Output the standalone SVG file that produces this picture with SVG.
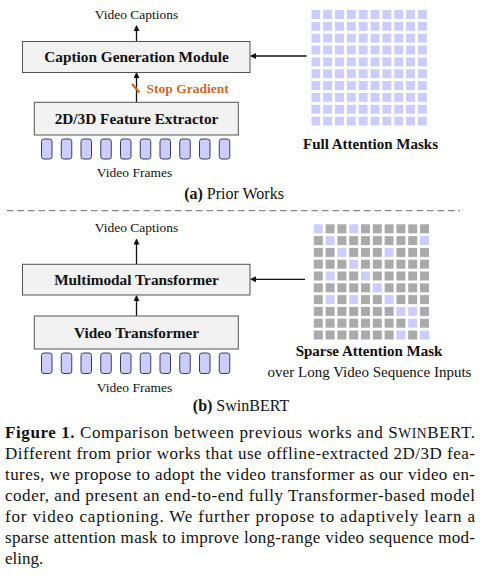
<svg xmlns="http://www.w3.org/2000/svg" width="482" height="576" viewBox="0 0 482 576">
<style>
text{font-family:"Liberation Serif","Times New Roman",serif;fill:#111}
.lbl{font-size:13.5px;text-anchor:middle}
.box{fill:#f2f2f2;stroke:#555;stroke-width:1}
.bt{font-size:15.3px;font-weight:bold;text-anchor:middle}
.fr{fill:#ccccff;stroke:#3c3c55;stroke-width:1}
.ln{stroke:#111;stroke-width:1.3;fill:none}
.fm{fill:#ccccff}
.g{fill:#aaaaaa}
.p{fill:#ccccff}
.cap{font-size:17px}
</style>
<defs>
<marker id="ah" markerWidth="6" markerHeight="6" refX="5" refY="3" orient="auto" markerUnits="userSpaceOnUse">
<path d="M0,0 L6,3 L0,6 Z" fill="#111"/>
</marker>
<pattern id="fullgrid" x="311.3" y="10" width="11.85" height="11.85" patternUnits="userSpaceOnUse">
<rect x="0" y="0" width="9" height="9" fill="#ccccff"/>
</pattern>
</defs>

<g id="connectors">
<line class="ln" x1="136.5" y1="41.5" x2="136.5" y2="26" marker-end="url(#ah)"/>
<line class="ln" x1="136.5" y1="102" x2="136.5" y2="73" marker-end="url(#ah)"/>
<line x1="132" y1="84" x2="139.5" y2="92.5" stroke="#d2691e" stroke-width="2.2"/>
<line class="ln" x1="306.5" y1="56" x2="251" y2="56" marker-end="url(#ah)"/>
<line class="ln" x1="136.5" y1="264" x2="136.5" y2="239.5" marker-end="url(#ah)"/>
<line class="ln" x1="136.5" y1="316" x2="136.5" y2="296" marker-end="url(#ah)"/>
<line class="ln" x1="305" y1="279.3" x2="251" y2="279.3" marker-end="url(#ah)"/>
</g>

<g id="prior-captions"><text class="lbl" x="136.5" y="19">Video Captions</text></g>
<g id="caption-generation-module">
<rect class="box" x="22.5" y="41.5" width="227.5" height="31"/>
<text class="bt" x="136.5" y="62">Caption Generation Module</text>
</g>
<g id="stop-gradient"><text x="146.5" y="93" style="font-size:13.5px;font-weight:bold;fill:#cc6a2a">Stop Gradient</text></g>
<g id="feature-extractor">
<rect class="box" x="34.3" y="102.3" width="204" height="32.7"/>
<text class="bt" x="136.5" y="123.5">2D/3D Feature Extractor</text>
</g>
<g id="prior-frames">
<rect class="fr" x="41.5" y="139" width="10.5" height="20" rx="2.5"/>
<rect class="fr" x="61.25" y="139" width="10.5" height="20" rx="2.5"/>
<rect class="fr" x="81" y="139" width="10.5" height="20" rx="2.5"/>
<rect class="fr" x="100.75" y="139" width="10.5" height="20" rx="2.5"/>
<rect class="fr" x="120.5" y="139" width="10.5" height="20" rx="2.5"/>
<rect class="fr" x="140.25" y="139" width="10.5" height="20" rx="2.5"/>
<rect class="fr" x="160" y="139" width="10.5" height="20" rx="2.5"/>
<rect class="fr" x="179.75" y="139" width="10.5" height="20" rx="2.5"/>
<rect class="fr" x="199.5" y="139" width="10.5" height="20" rx="2.5"/>
<rect class="fr" x="219.25" y="139" width="10.5" height="20" rx="2.5"/>
<text class="lbl" x="134.5" y="176.5">Video Frames</text>
</g>
<g id="full-attention-mask">
<rect x="311.3" y="10" width="115.7" height="115.7" fill="url(#fullgrid)"/>
<text x="370.5" y="149" style="font-size:15px;font-weight:bold;text-anchor:middle">Full Attention Masks</text>
</g>
<g id="label-a"><text x="234" y="199" style="font-size:16px;text-anchor:middle"><tspan font-weight="bold">(a)</tspan> Prior Works</text></g>

<line x1="7" y1="210.7" x2="460" y2="210.7" stroke="#888" stroke-width="1.3" stroke-dasharray="6.5,4"/>

<g id="swin-captions"><text class="lbl" x="136.5" y="232.3">Video Captions</text></g>
<g id="multimodal-transformer">
<rect class="box" x="22.5" y="264.3" width="227.5" height="30.7"/>
<text class="bt" x="136.5" y="284.5">Multimodal Transformer</text>
</g>
<g id="video-transformer">
<rect class="box" x="34.3" y="316" width="204" height="33"/>
<text class="bt" x="136.5" y="337.5">Video Transformer</text>
</g>
<g id="swin-frames">
<rect class="fr" x="41.5" y="353" width="10.5" height="20.5" rx="2.5"/>
<rect class="fr" x="61.25" y="353" width="10.5" height="20.5" rx="2.5"/>
<rect class="fr" x="81" y="353" width="10.5" height="20.5" rx="2.5"/>
<rect class="fr" x="100.75" y="353" width="10.5" height="20.5" rx="2.5"/>
<rect class="fr" x="120.5" y="353" width="10.5" height="20.5" rx="2.5"/>
<rect class="fr" x="140.25" y="353" width="10.5" height="20.5" rx="2.5"/>
<rect class="fr" x="160" y="353" width="10.5" height="20.5" rx="2.5"/>
<rect class="fr" x="179.75" y="353" width="10.5" height="20.5" rx="2.5"/>
<rect class="fr" x="199.5" y="353" width="10.5" height="20.5" rx="2.5"/>
<rect class="fr" x="219.25" y="353" width="10.5" height="20.5" rx="2.5"/>
<text class="lbl" x="134.5" y="391.5">Video Frames</text>
</g>
<g id="sparse-attention-mask">
<g transform="translate(313.8,224.3)">
<!-- row 0 -->
<rect class="p" x="0" y="0" width="9" height="9"/><rect class="g" x="11.8" y="0" width="9" height="9"/><rect class="g" x="23.6" y="0" width="9" height="9"/><rect class="p" x="35.4" y="0" width="9" height="9"/><rect class="g" x="47.2" y="0" width="9" height="9"/><rect class="g" x="59" y="0" width="9" height="9"/><rect class="g" x="70.8" y="0" width="9" height="9"/><rect class="g" x="82.6" y="0" width="9" height="9"/><rect class="g" x="94.4" y="0" width="9" height="9"/><rect class="g" x="106.2" y="0" width="9" height="9"/>
<!-- row 1 -->
<rect class="g" x="0" y="11.8" width="9" height="9"/><rect class="p" x="11.8" y="11.8" width="9" height="9"/><rect class="g" x="23.6" y="11.8" width="9" height="9"/><rect class="g" x="35.4" y="11.8" width="9" height="9"/><rect class="g" x="47.2" y="11.8" width="9" height="9"/><rect class="g" x="59" y="11.8" width="9" height="9"/><rect class="g" x="70.8" y="11.8" width="9" height="9"/><rect class="g" x="82.6" y="11.8" width="9" height="9"/><rect class="g" x="94.4" y="11.8" width="9" height="9"/><rect class="p" x="106.2" y="11.8" width="9" height="9"/>
<!-- row 2 -->
<rect class="g" x="0" y="23.6" width="9" height="9"/><rect class="g" x="11.8" y="23.6" width="9" height="9"/><rect class="p" x="23.6" y="23.6" width="9" height="9"/><rect class="g" x="35.4" y="23.6" width="9" height="9"/><rect class="g" x="47.2" y="23.6" width="9" height="9"/><rect class="g" x="59" y="23.6" width="9" height="9"/><rect class="p" x="70.8" y="23.6" width="9" height="9"/><rect class="g" x="82.6" y="23.6" width="9" height="9"/><rect class="g" x="94.4" y="23.6" width="9" height="9"/><rect class="g" x="106.2" y="23.6" width="9" height="9"/>
<!-- row 3 -->
<rect class="g" x="0" y="35.4" width="9" height="9"/><rect class="g" x="11.8" y="35.4" width="9" height="9"/><rect class="g" x="23.6" y="35.4" width="9" height="9"/><rect class="p" x="35.4" y="35.4" width="9" height="9"/><rect class="g" x="47.2" y="35.4" width="9" height="9"/><rect class="g" x="59" y="35.4" width="9" height="9"/><rect class="g" x="70.8" y="35.4" width="9" height="9"/><rect class="g" x="82.6" y="35.4" width="9" height="9"/><rect class="g" x="94.4" y="35.4" width="9" height="9"/><rect class="g" x="106.2" y="35.4" width="9" height="9"/>
<!-- row 4 -->
<rect class="g" x="0" y="47.2" width="9" height="9"/><rect class="p" x="11.8" y="47.2" width="9" height="9"/><rect class="g" x="23.6" y="47.2" width="9" height="9"/><rect class="g" x="35.4" y="47.2" width="9" height="9"/><rect class="p" x="47.2" y="47.2" width="9" height="9"/><rect class="g" x="59" y="47.2" width="9" height="9"/><rect class="g" x="70.8" y="47.2" width="9" height="9"/><rect class="g" x="82.6" y="47.2" width="9" height="9"/><rect class="g" x="94.4" y="47.2" width="9" height="9"/><rect class="g" x="106.2" y="47.2" width="9" height="9"/>
<!-- row 5 -->
<rect class="g" x="0" y="59" width="9" height="9"/><rect class="g" x="11.8" y="59" width="9" height="9"/><rect class="g" x="23.6" y="59" width="9" height="9"/><rect class="g" x="35.4" y="59" width="9" height="9"/><rect class="g" x="47.2" y="59" width="9" height="9"/><rect class="p" x="59" y="59" width="9" height="9"/><rect class="g" x="70.8" y="59" width="9" height="9"/><rect class="g" x="82.6" y="59" width="9" height="9"/><rect class="g" x="94.4" y="59" width="9" height="9"/><rect class="g" x="106.2" y="59" width="9" height="9"/>
<!-- row 6 -->
<rect class="g" x="0" y="70.8" width="9" height="9"/><rect class="p" x="11.8" y="70.8" width="9" height="9"/><rect class="g" x="23.6" y="70.8" width="9" height="9"/><rect class="p" x="35.4" y="70.8" width="9" height="9"/><rect class="g" x="47.2" y="70.8" width="9" height="9"/><rect class="g" x="59" y="70.8" width="9" height="9"/><rect class="p" x="70.8" y="70.8" width="9" height="9"/><rect class="g" x="82.6" y="70.8" width="9" height="9"/><rect class="g" x="94.4" y="70.8" width="9" height="9"/><rect class="g" x="106.2" y="70.8" width="9" height="9"/>
<!-- row 7 -->
<rect class="g" x="0" y="82.6" width="9" height="9"/><rect class="g" x="11.8" y="82.6" width="9" height="9"/><rect class="g" x="23.6" y="82.6" width="9" height="9"/><rect class="g" x="35.4" y="82.6" width="9" height="9"/><rect class="g" x="47.2" y="82.6" width="9" height="9"/><rect class="g" x="59" y="82.6" width="9" height="9"/><rect class="g" x="70.8" y="82.6" width="9" height="9"/><rect class="p" x="82.6" y="82.6" width="9" height="9"/><rect class="p" x="94.4" y="82.6" width="9" height="9"/><rect class="g" x="106.2" y="82.6" width="9" height="9"/>
<!-- row 8 -->
<rect class="g" x="0" y="94.4" width="9" height="9"/><rect class="g" x="11.8" y="94.4" width="9" height="9"/><rect class="g" x="23.6" y="94.4" width="9" height="9"/><rect class="g" x="35.4" y="94.4" width="9" height="9"/><rect class="g" x="47.2" y="94.4" width="9" height="9"/><rect class="g" x="59" y="94.4" width="9" height="9"/><rect class="g" x="70.8" y="94.4" width="9" height="9"/><rect class="g" x="82.6" y="94.4" width="9" height="9"/><rect class="p" x="94.4" y="94.4" width="9" height="9"/><rect class="g" x="106.2" y="94.4" width="9" height="9"/>
<!-- row 9 -->
<rect class="g" x="0" y="106.2" width="9" height="9"/><rect class="g" x="11.8" y="106.2" width="9" height="9"/><rect class="g" x="23.6" y="106.2" width="9" height="9"/><rect class="g" x="35.4" y="106.2" width="9" height="9"/><rect class="g" x="47.2" y="106.2" width="9" height="9"/><rect class="g" x="59" y="106.2" width="9" height="9"/><rect class="g" x="70.8" y="106.2" width="9" height="9"/><rect class="p" x="82.6" y="106.2" width="9" height="9"/><rect class="g" x="94.4" y="106.2" width="9" height="9"/><rect class="p" x="106.2" y="106.2" width="9" height="9"/>
</g>
<text x="369" y="355.7" style="font-size:15px;font-weight:bold;text-anchor:middle">Sparse Attention Mask</text>
<text x="369.5" y="376.7" style="font-size:15px;text-anchor:middle">over Long Video Sequence Inputs</text>
</g>
<g id="label-b"><text x="241" y="411" style="font-size:16px;text-anchor:middle"><tspan font-weight="bold">(b)</tspan> SwinBERT</text></g>

<g id="figure-caption">
<text class="cap" x="5" y="437.7" textLength="470" lengthAdjust="spacing"><tspan font-weight="bold">Figure 1.</tspan> Comparison between previous works and S<tspan font-size="13.6">WIN</tspan>BERT.</text>
<text class="cap" x="5" y="458.8" textLength="470" lengthAdjust="spacing">Different from prior works that use offline-extracted 2D/3D fea-</text>
<text class="cap" x="5" y="479.9" textLength="470" lengthAdjust="spacing">tures, we propose to adopt the video transformer as our video en-</text>
<text class="cap" x="5" y="501" textLength="470" lengthAdjust="spacing">coder, and present an end-to-end fully Transformer-based model</text>
<text class="cap" x="5" y="522.1" textLength="470" lengthAdjust="spacing">for video captioning.  We further propose to adaptively learn a</text>
<text class="cap" x="5" y="543.2" textLength="470" lengthAdjust="spacing">sparse attention mask to improve long-range video sequence mod-</text>
<text class="cap" x="5" y="564.3">eling.</text>
</g>
</svg>
